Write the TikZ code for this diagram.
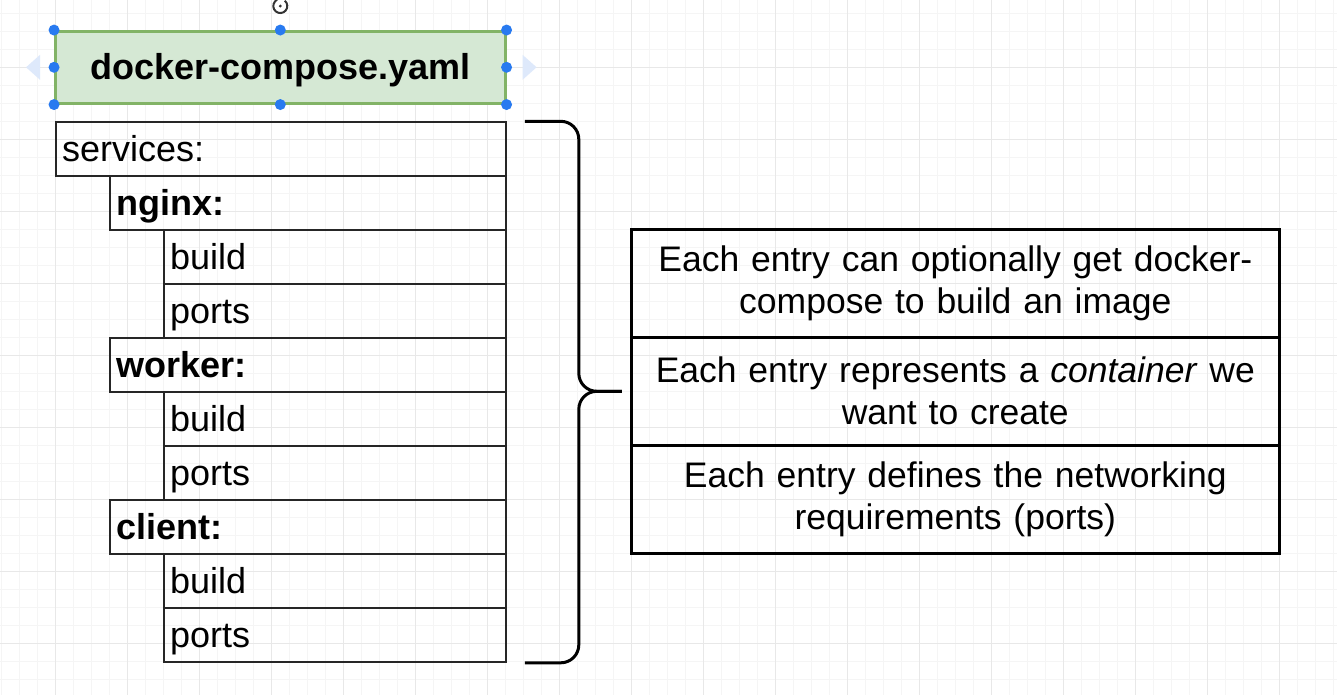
\documentclass[tikz,border=0pt]{standalone}
\usepackage{fontspec}
\setmainfont{Liberation Sans}
\definecolor{gridminor}{RGB}{245,245,245}
\definecolor{gridmajor}{RGB}{232,232,232}
\definecolor{titlefill}{HTML}{D5E8D4}
\definecolor{titleline}{HTML}{82B366}
\definecolor{handleblue}{RGB}{40,122,240}
\definecolor{hintblue}{RGB}{222,233,251}
\usetikzlibrary{arrows.meta, positioning, calc}

\begin{document}
\begin{tikzpicture}[
      x=1pt, y=-1pt,
      row/.style={draw=black!85, line width=1.5pt, anchor=north west, minimum height=54pt, inner xsep=6pt, inner ysep=0pt,
        align=left, text height=30pt, text depth=6pt, font=\fontsize{36}{43}\selectfont},
      toprow/.style={row, text width=438pt},
      keyrow/.style={row, text width=384pt},
      optrow/.style={row, text width=330pt},
      note/.style={draw, line width=3pt, minimum width=648pt, minimum height=108pt, text width=630pt, align=center,
        font=\fontsize{35.5}{42}\selectfont},
      titlebox/.style={draw=titleline, fill=titlefill, line width=2.5pt, minimum width=450pt, minimum height=72pt,
        text height=28pt, text depth=4pt, font=\fontsize{36}{43}\selectfont\bfseries},
      brace/.style={line width=3pt, rounded corners=18pt},
      handle/.style={fill=handleblue}
    ]
      \useasboundingbox[fill=white] (0,0) rectangle (1337,695);

      % grid of the canvas
      \foreach \i in {0,...,74} \draw[gridminor, line width=1pt] ({1.3+18*\i},0) -- ({1.3+18*\i},695);
      \foreach \i in {0,...,37} \draw[gridminor, line width=1pt] (0,{13.3+18*\i}) -- (1337,{13.3+18*\i});
      \foreach \i in {1,...,18} \draw[gridmajor, line width=1pt] ({-16.7+72*\i},0) -- ({-16.7+72*\i},695);
      \foreach \i in {1,...,9} \draw[gridmajor, line width=1pt] (0,{-4.7+72*\i}) -- (1337,{-4.7+72*\i});

      \node[titlebox] (title) at (280.3,67.3) {docker-compose.yaml};

      % selection handles
      \foreach \a in {north west, north, north east, east, south east, south, south west, west}
        \fill[handle] (title.\a) circle (5.5);
      \fill[hintblue] ($(title.west)+(-28,0)$) -- ($(title.west)+(-14,-12.5)$) -- ($(title.west)+(-14,12.5)$) -- cycle;
      \fill[hintblue] ($(title.east)+(30,0)$) -- ($(title.east)+(16,-12.5)$) -- ($(title.east)+(16,12.5)$) -- cycle;
      \coordinate (rotknob) at ($(title.north)+(0,-24)$);
      \draw[black!80, line width=2pt, -{Stealth[length=4pt]}] ($(rotknob)+(-50:7)$) arc (-50:250:7);
      \fill[black!80] (rotknob) circle (1.6);

      % services list
      \node[toprow] (services) at (55.3,121.3) {services:};
      \node[keyrow] (nginx) at (109.3,175.3) {\textbf{nginx:}};
      \node[optrow] (nginxbuild) at (163.3,229.3) {build};
      \node[optrow] (nginxports) at (163.3,283.3) {ports};
      \node[keyrow] (worker) at (109.3,337.3) {\textbf{worker:}};
      \node[optrow] (workerbuild) at (163.3,391.3) {build};
      \node[optrow] (workerports) at (163.3,445.3) {ports};
      \node[keyrow] (client) at (109.3,499.3) {\textbf{client:}};
      \node[optrow] (clientbuild) at (163.3,553.3) {build};
      \node[optrow] (clientports) at (163.3,607.3) {ports};

      % notes on the right
      \node[note] (buildnote) at (955.3,283.3) {Each entry can optionally get docker-\\compose to build an image};
      \node[note] (containernote) at (955.3,391.3) {Each entry represents a \textit{container} we\\want to create};
      \node[note] (portsnote) at (955.3,499.3) {Each entry defines the networking\\requirements (ports)};

      % curly brace
      \coordinate (bracetop) at ($(services.north east)+(18,0)$);
      \coordinate (bracebot) at ($(clientports.south east)+(18,0)$);
      \coordinate (bracetip) at ($(containernote.west)+(-8,0)$);
      \draw[brace] (bracetop) -- ++(54,0) |- (bracetip);
      \draw[brace] (bracebot) -- ++(54,0) |- (bracetip);
    \end{tikzpicture}
\end{document}
